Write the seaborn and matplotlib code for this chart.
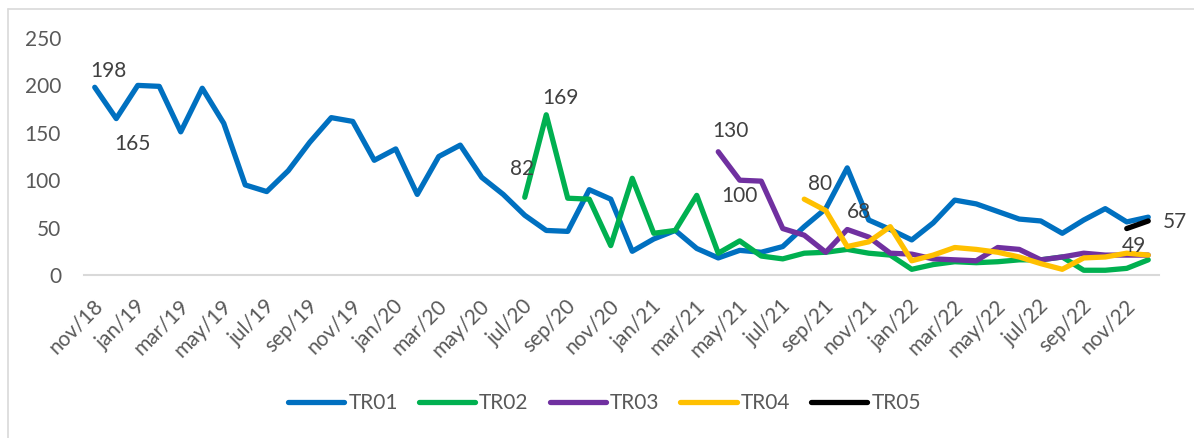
import numpy as np
import pandas as pd
import matplotlib
matplotlib.use("Agg")
import matplotlib.pyplot as plt
import matplotlib.transforms as mtransforms
from matplotlib.lines import Line2D
import seaborn as sns

# ---------------- data ----------------
n_months = 50  # nov/18 .. dec/22
tick_labels = ["nov/18", "jan/19", "mar/19", "may/19", "jul/19", "sep/19", "nov/19",
               "jan/20", "mar/20", "may/20", "jul/20", "sep/20", "nov/20",
               "jan/21", "mar/21", "may/21", "jul/21", "sep/21", "nov/21",
               "jan/22", "mar/22", "may/22", "jul/22", "sep/22", "nov/22"]

series_names = ["TR01", "TR02", "TR03", "TR04", "TR05"]
series_start = [0, 20, 29, 33, 48]   # month index of first value

tr01 = [198, 165, 200, 199, 151, 197, 160, 95, 88, 110,
        140, 166, 162, 121, 133, 85, 125, 137, 103, 85,
        63, 47, 46, 90, 80, 25, 38, 47, 28, 18,
        26, 24, 30, 51, 70, 113, 58, 48, 37, 55,
        79, 75, 67, 59, 57, 44, 58, 70, 56, 61]
tr02 = [82, 169, 81, 80, 31, 102, 44, 47, 84, 23,
        36, 20, 17, 23, 24, 27, 23, 21, 6, 11,
        14, 13, 14, 16, 16, 19, 5, 5, 7, 16]
tr03 = [130, 100, 99, 49, 42, 24, 48, 40, 23, 22,
        17, 16, 15, 29, 27, 16, 19, 23, 21, 21, 21]
tr04 = [80, 68, 30, 35, 51, 15, 21, 29, 27, 24,
        19, 12, 6, 18, 19, 23, 21]
tr05 = [49, 57]

# ---------------- style ----------------
colors = ["#0070C0", "#00B050", "#7030A0", "#FFC000", "#000000"]
text_color = "#595959"
W, H, DPI = 1194, 438, 100

sns.set_theme(style="white")
plt.rcParams["font.family"] = ["Lato", "DejaVu Sans"]

all_values = [tr01, tr02, tr03, tr04, tr05]
frames = []
for name, start, vals in zip(series_names, series_start, all_values):
    frames.append(pd.DataFrame({"month": np.arange(start, start + len(vals)),
                                "value": vals, "series": name}))
df = pd.concat(frames, ignore_index=True)

fig = plt.figure(figsize=(W / DPI, H / DPI), dpi=DPI)
ax = fig.add_axes([84 / W, 1 - 275 / H, (1159 - 84) / W, (275 - 38) / H])

sns.lineplot(data=df, x="month", y="value", hue="series", hue_order=series_names,
             palette=colors, linewidth=3.8, estimator=None, sort=False, ax=ax,
             solid_joinstyle="round", solid_capstyle="round")

ax.set_xlim(-0.5, n_months - 0.5)
ax.set_ylim(0, 250)
ax.set_yticks(np.arange(0, 251, 50))
ax.set_xticks(np.arange(0, n_months, 2))
ax.set_xticklabels(tick_labels, rotation=45, ha="right", va="center",
                   rotation_mode="anchor")
ax.set_xlabel("")
ax.set_ylabel("")
for s in ["top", "left", "right"]:
    ax.spines[s].set_visible(False)
ax.spines["bottom"].set_color("#D9D9D9")
ax.spines["bottom"].set_linewidth(1.5)
ax.tick_params(axis="y", length=0, pad=16.5, labelsize=15, labelcolor=text_color)
ax.tick_params(axis="x", length=0, pad=20, labelsize=15, labelcolor=text_color)
offset = mtransforms.ScaledTranslation(5 / DPI, 0, fig.dpi_scale_trans)
for lab in ax.get_xticklabels():
    lab.set_transform(lab.get_transform() + offset)

# data labels: first two points of each series (offsets in pixels: right, up)
label_offsets = {
    "TR01": [(14, 16), (16, -25)],
    "TR02": [(-3, 28), (14, 17)],
    "TR03": [(12.5, 21), (0, -15.5)],
    "TR04": [(16, 15), (33, -1)],
    "TR05": [(7, -17), (27, -1)],
}
for name, start, vals in zip(series_names, series_start, all_values):
    for k in range(2):
        dx, dy = label_offsets[name][k]
        ax.annotate(str(vals[k]), xy=(start + k, vals[k]),
                    xytext=(dx * 72 / DPI, dy * 72 / DPI), textcoords="offset points",
                    ha="center", va="center", fontsize=15, color="#404040")

handles, labels = ax.get_legend_handles_labels()
if ax.legend_ is not None:
    ax.legend_.remove()
fig.legend(handles, labels, loc="center", ncol=5, frameon=False,
           bbox_to_anchor=(604.5 / W, 1 - 403 / H), bbox_transform=fig.transFigure,
           fontsize=15, labelcolor=text_color, handlelength=2.7,
           handletextpad=0.2, columnspacing=1.0)

# chart-area border (left and top visible)
fig.add_artist(Line2D([7.5 / W, 7.5 / W], [0, 1 - 8.5 / H], transform=fig.transFigure,
                      color="#D9D9D9", lw=1.2))
fig.add_artist(Line2D([7.5 / W, 1], [1 - 8.5 / H, 1 - 8.5 / H], transform=fig.transFigure,
                      color="#D9D9D9", lw=1.2))

fig.savefig("out.png", dpi=DPI)
